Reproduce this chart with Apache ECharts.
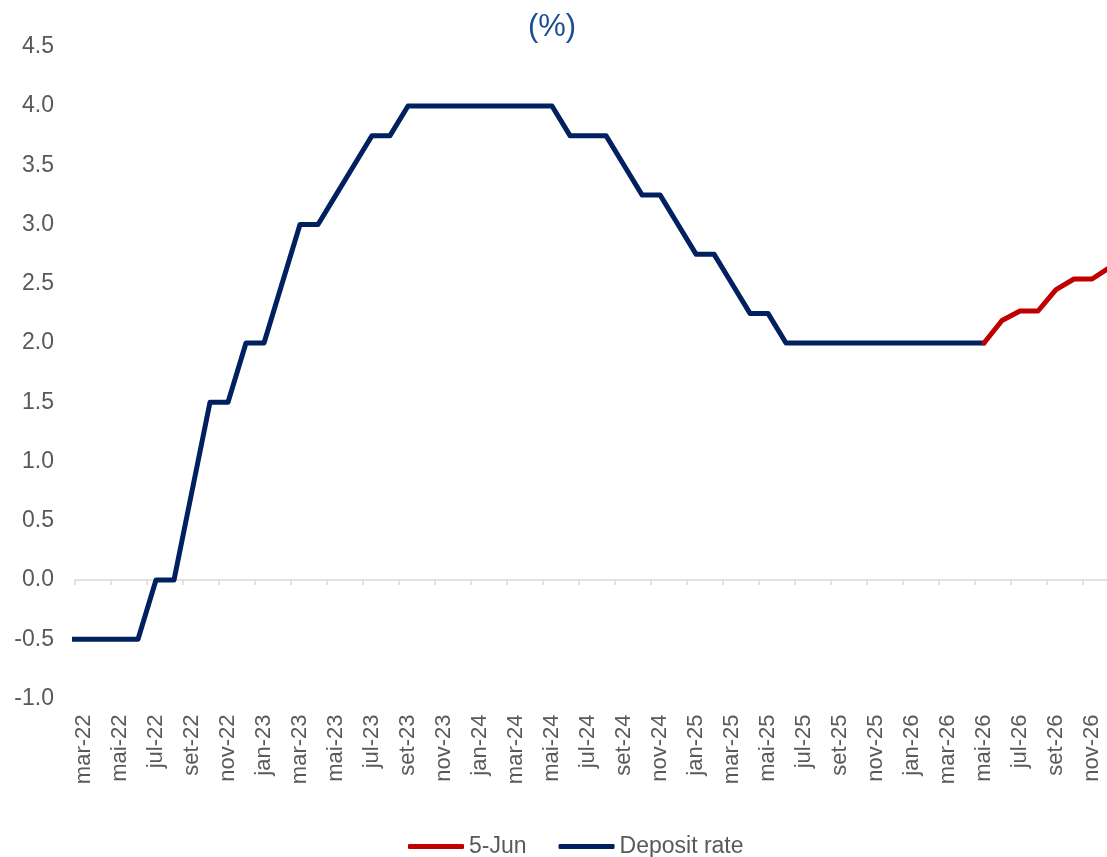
<!DOCTYPE html>
<html>
<head>
<meta charset="utf-8">
<script src="https://cdn.jsdelivr.net/npm/echarts@6/dist/echarts.min.js"></script>
<style>
  html, body { margin: 0; padding: 0; background: #ffffff; }
  #chart { width: 1107px; height: 857px; }
</style>
</head>
<body>
<div id="chart"></div>
<script>
// Monthly categories (fev-22 sits just left of the visible window)
const months = [
  'fev-22', 'mar-22', 'abr-22', 'mai-22', 'jun-22', 'jul-22', 'ago-22', 'set-22', 'out-22', 'nov-22', 'dez-22',
  'jan-23', 'fev-23', 'mar-23', 'abr-23', 'mai-23', 'jun-23', 'jul-23', 'ago-23', 'set-23', 'out-23', 'nov-23', 'dez-23',
  'jan-24', 'fev-24', 'mar-24', 'abr-24', 'mai-24', 'jun-24', 'jul-24', 'ago-24', 'set-24', 'out-24', 'nov-24', 'dez-24',
  'jan-25', 'fev-25', 'mar-25', 'abr-25', 'mai-25', 'jun-25', 'jul-25', 'ago-25', 'set-25', 'out-25', 'nov-25', 'dez-25',
  'jan-26', 'fev-26', 'mar-26', 'abr-26', 'mai-26', 'jun-26', 'jul-26', 'ago-26', 'set-26', 'out-26', 'nov-26', 'dez-26'
];

// ECB deposit facility rate (%)
const depositRate = [
  -0.5, -0.5, -0.5, -0.5, -0.5, 0.0, 0.0, 0.75, 1.5, 1.5, 2.0,
  2.0, 2.5, 3.0, 3.0, 3.25, 3.5, 3.75, 3.75, 4.0, 4.0, 4.0, 4.0,
  4.0, 4.0, 4.0, 4.0, 4.0, 3.75, 3.75, 3.75, 3.5, 3.25, 3.25, 3.0,
  2.75, 2.75, 2.5, 2.25, 2.25, 2.0, 2.0, 2.0, 2.0, 2.0, 2.0, 2.0,
  2.0, 2.0, 2.0, 2.0, 2.0, null, null, null, null, null, null, null
];

// Market-implied path as of 5 June (%)
const forward5Jun = [
  null, null, null, null, null, null, null, null, null, null, null,
  null, null, null, null, null, null, null, null, null, null, null, null,
  null, null, null, null, null, null, null, null, null, null, null, null,
  null, null, null, null, null, null, null, null, null, null, null, null,
  null, null, null, null, 2.0, 2.19, 2.27, 2.27, 2.45, 2.54, 2.54, 2.64
];

// Value-axis ticks
const yTicks = { min: -1.0, max: 4.5, step: 0.5 };

const firstShown = 1;                 // mar-22
const lastShown = months.length - 1;  // dez-26
const everyOther = (i) => (i - firstShown) % 2 === 0;

const FONT = '"Liberation Sans", Arial, sans-serif';
const GREY = '#595959';

const chart = echarts.init(document.getElementById('chart'), null, { renderer: 'canvas' });

chart.setOption({
  animation: false,
  backgroundColor: '#ffffff',
  title: {
    text: '(%)',
    left: 547,
    textAlign: 'center',
    top: 7,
    textStyle: { fontFamily: FONT, fontSize: 31, fontWeight: 'normal', color: '#1F4E91' }
  },
  grid: {
    left: 75,
    right: -12,
    top: 46.75,
    bottom: 158.5,
    containLabel: false,
    outerBoundsMode: 'none'
  },
  legend: {
    data: ['5-Jun', 'Deposit rate'],
    left: 403,
    top: 830,
    icon: 'roundRect',
    itemWidth: 56,
    itemHeight: 5,
    itemGap: 32,
    textStyle: { fontFamily: FONT, fontSize: 23, color: GREY }
  },
  xAxis: [
    {
      // month labels along the bottom edge
      type: 'category',
      data: months,
      min: firstShown,
      max: lastShown,
      boundaryGap: true,
      position: 'bottom',
      axisLine: { show: false, onZero: false },
      axisTick: { show: false },
      axisLabel: {
        interval: everyOther,
        rotate: 90,
        margin: 16,
        fontFamily: FONT,
        fontSize: 22,
        color: GREY
      },
      splitLine: { show: false }
    },
    {
      // horizontal axis line with ticks crossing at zero
      type: 'category',
      data: months,
      min: firstShown,
      max: lastShown,
      boundaryGap: true,
      position: 'bottom',
      axisLine: { show: true, onZero: true, lineStyle: { color: '#D9D9D9', width: 1.5 } },
      axisTick: { show: true, interval: everyOther, length: 5, lineStyle: { color: '#D9D9D9', width: 1.5 } },
      axisLabel: { show: false },
      splitLine: { show: false }
    }
  ],
  yAxis: {
    type: 'value',
    min: yTicks.min,
    max: yTicks.max,
    interval: yTicks.step,
    axisLine: { show: false },
    axisTick: { show: false },
    splitLine: { show: false },
    axisLabel: {
      margin: 21,
      fontFamily: FONT,
      fontSize: 23,
      color: GREY,
      formatter: (v) => v.toFixed(1)
    }
  },
  series: [
    {
      name: 'Deposit rate',
      type: 'line',
      xAxisIndex: 0,
      data: depositRate,
      showSymbol: false,
      symbol: 'none',
      connectNulls: false,
      clip: true,
      lineStyle: { color: '#002060', width: 5, join: 'round', cap: 'round' },
      itemStyle: { color: '#002060' },
      z: 2
    },
    {
      name: '5-Jun',
      type: 'line',
      xAxisIndex: 0,
      data: forward5Jun,
      showSymbol: false,
      symbol: 'none',
      connectNulls: false,
      clip: true,
      lineStyle: { color: '#C00000', width: 5, join: 'round', cap: 'round' },
      itemStyle: { color: '#C00000' },
      z: 3
    }
  ]
});
</script>
</body>
</html>
